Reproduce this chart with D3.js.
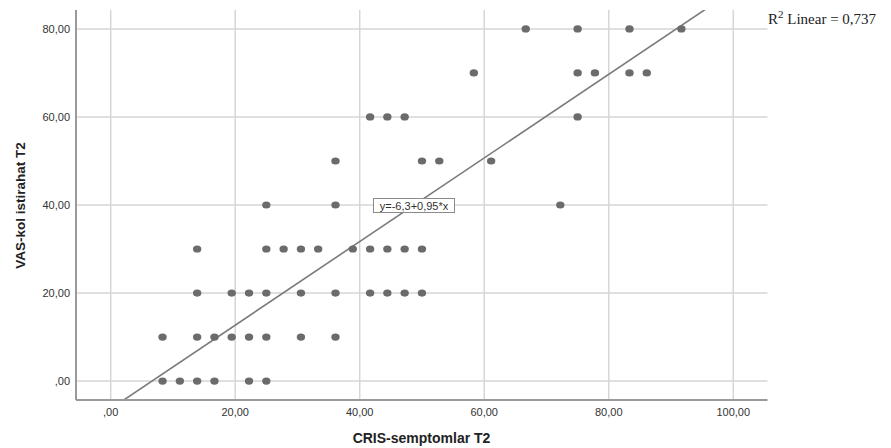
<!DOCTYPE html>
<html>
<head>
<meta charset="utf-8">
<script src="https://cdn.jsdelivr.net/npm/d3@7"></script>
<style>
  body { margin: 0; background: #fff; }
  svg { display: block; }
</style>
</head>
<body>
<div id="chart"></div>
<script>
// CRIS-semptomlar T2 değerleri (x) ve VAS-kol istirahat T2 değerleri (y)
const crisValues = [
    8.33, 11.11, 13.89, 16.67, 22.22, 25.00,
    8.33, 13.89, 16.67, 19.44, 22.22, 25.00, 30.56, 36.11,
    13.89, 19.44, 22.22, 25.00, 30.56, 36.11, 41.67, 44.44, 47.22, 50.00,
    13.89, 25.00, 27.78, 30.56, 33.33, 38.89, 41.67, 44.44, 47.22, 50.00,
    25.00, 36.11, 72.22,
    36.11, 50.00, 52.78, 61.11,
    41.67, 44.44, 47.22, 75.00,
    58.33, 75.00, 77.78, 83.33, 86.11,
    66.67, 75.00, 83.33, 91.67
];
const vasValues = [
    0, 0, 0, 0, 0, 0,
    10, 10, 10, 10, 10, 10, 10, 10,
    20, 20, 20, 20, 20, 20, 20, 20, 20, 20,
    30, 30, 30, 30, 30, 30, 30, 30, 30, 30,
    40, 40, 40,
    50, 50, 50, 50,
    60, 60, 60, 60,
    70, 70, 70, 70, 70,
    80, 80, 80, 80
];
const xTicks = [0, 20, 40, 60, 80, 100];
const yTicks = [0, 20, 40, 60, 80];
const fitIntercept = -6.3;
const fitSlope = 0.95;
const fitLabel = "y=-6,3+0,95*x";
const r2Value = "0,737";

const W = 891, H = 448;
const plot = { left: 76, right: 767.5, top: 10, bottom: 400 };

const svg = d3.select("#chart").append("svg")
    .attr("width", W)
    .attr("height", H);

const x = d3.scaleLinear().domain([-5.57, 105.5]).range([plot.left, plot.right]);
const y = d3.scaleLinear().domain([-4.3, 84.3]).range([plot.bottom, plot.top]);

const fmt = d => d === 0 ? ",00" : d3.format(".2f")(d).replace(".", ",");

// Izgara çizgileri
svg.append("g")
    .selectAll("line")
    .data(xTicks)
    .join("line")
    .attr("x1", d => x(d)).attr("x2", d => x(d))
    .attr("y1", plot.top).attr("y2", plot.bottom)
    .attr("stroke", "#d6d6d6")
    .attr("stroke-width", 1.5);

svg.append("g")
    .selectAll("line")
    .data(yTicks)
    .join("line")
    .attr("x1", plot.left).attr("x2", plot.right)
    .attr("y1", d => y(d)).attr("y2", d => y(d))
    .attr("stroke", "#d6d6d6")
    .attr("stroke-width", 1.5);

// Regresyon doğrusu (çizim alanına kırpılmış)
svg.append("clipPath").attr("id", "plotClip")
    .append("rect")
    .attr("x", plot.left).attr("y", plot.top)
    .attr("width", plot.right - plot.left).attr("height", plot.bottom - plot.top);

const xd = x.domain();
svg.append("line")
    .attr("clip-path", "url(#plotClip)")
    .attr("x1", x(xd[0])).attr("y1", y(fitIntercept + fitSlope * xd[0]))
    .attr("x2", x(xd[1])).attr("y2", y(fitIntercept + fitSlope * xd[1]))
    .attr("stroke", "#7a7a7a")
    .attr("stroke-width", 1.6);

// Noktalar
const points = crisValues.map((c, i) => ({ cris: c, vas: vasValues[i] }));
svg.append("g")
    .selectAll("ellipse")
    .data(points)
    .join("ellipse")
    .attr("cx", d => x(d.cris))
    .attr("cy", d => y(d.vas))
    .attr("rx", 4.2)
    .attr("ry", 3.6)
    .attr("fill", "#6b6b6b");

// Eksen çizgileri
svg.append("line")
    .attr("x1", plot.left).attr("x2", plot.left)
    .attr("y1", plot.top).attr("y2", plot.bottom)
    .attr("stroke", "#9a9a9a").attr("stroke-width", 2);
svg.append("line")
    .attr("x1", plot.left).attr("x2", plot.right)
    .attr("y1", plot.bottom).attr("y2", plot.bottom)
    .attr("stroke", "#9a9a9a").attr("stroke-width", 2);

// Eksen etiketleri
svg.append("g")
    .selectAll("text")
    .data(xTicks)
    .join("text")
    .attr("x", d => x(d))
    .attr("y", 416)
    .attr("text-anchor", "middle")
    .style("font-family", "Arial, 'Liberation Sans', sans-serif")
    .style("font-size", "11px")
    .attr("fill", "#333")
    .text(fmt);

svg.append("g")
    .selectAll("text")
    .data(yTicks)
    .join("text")
    .attr("x", 70)
    .attr("y", d => y(d) + 4)
    .attr("text-anchor", "end")
    .style("font-family", "Arial, 'Liberation Sans', sans-serif")
    .style("font-size", "11px")
    .attr("fill", "#333")
    .text(fmt);

// Eksen başlıkları
svg.append("text")
    .attr("x", 421.5)
    .attr("y", 443)
    .attr("text-anchor", "middle")
    .style("font-family", "Arial, 'Liberation Sans', sans-serif")
    .style("font-size", "14px")
    .style("font-weight", "bold")
    .attr("fill", "#222")
    .text("CRIS-semptomlar T2");

svg.append("text")
    .attr("transform", "translate(24.5,205.5) rotate(-90)")
    .attr("text-anchor", "middle")
    .style("font-family", "Arial, 'Liberation Sans', sans-serif")
    .style("font-size", "13.5px")
    .style("font-weight", "bold")
    .attr("fill", "#222")
    .text("VAS-kol istirahat T2");

// Denklem kutusu
const eq = svg.append("g");
eq.append("rect")
    .attr("x", 373.5).attr("y", 198.5)
    .attr("width", 81).attr("height", 14)
    .attr("fill", "#fff")
    .attr("stroke", "#8a8a8a");
eq.append("text")
    .attr("x", 414)
    .attr("y", 209.5)
    .attr("text-anchor", "middle")
    .style("font-family", "Arial, 'Liberation Sans', sans-serif")
    .style("font-size", "11px")
    .attr("fill", "#333")
    .text(fitLabel);

// R² etiketi
const r2 = svg.append("text")
    .attr("x", 768)
    .attr("y", 24)
    .style("font-family", "'Times New Roman', 'Liberation Serif', serif")
    .style("font-size", "15px")
    .attr("fill", "#222");
r2.append("tspan").text("R");
r2.append("tspan").attr("dy", -6).style("font-size", "11px").text("2");
r2.append("tspan").attr("dy", 6).text(" Linear = " + r2Value);
</script>
</body>
</html>
